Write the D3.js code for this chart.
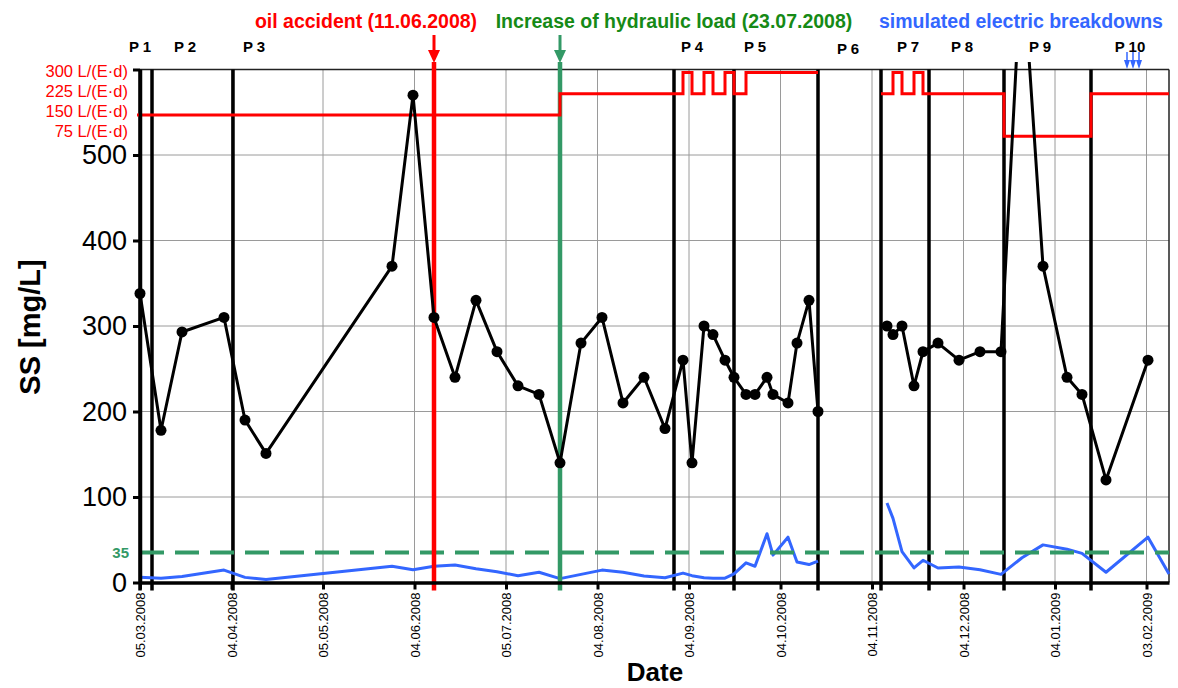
<!DOCTYPE html>
<html><head><meta charset="utf-8">
<script src="https://cdn.jsdelivr.net/npm/d3@7"></script>
<style>body{margin:0;background:#fff}svg{display:block;font-family:Arial,"Liberation Sans",sans-serif}</style>
</head><body><svg id="c" width="1178" height="688"></svg>
<script>
// ---------- DATA ----------
const ssDates = ["2008-03-05","2008-03-12","2008-03-19","2008-04-02","2008-04-09","2008-04-16","2008-05-28","2008-06-04","2008-06-11","2008-06-18","2008-06-25","2008-07-02","2008-07-09","2008-07-16","2008-07-23","2008-07-30","2008-08-06","2008-08-13","2008-08-20","2008-08-27","2008-09-02","2008-09-05","2008-09-09","2008-09-12","2008-09-16","2008-09-19","2008-09-23","2008-09-26","2008-09-30","2008-10-02","2008-10-07","2008-10-10","2008-10-14","2008-10-17","2008-10-30","2008-11-09","2008-11-11","2008-11-14","2008-11-18","2008-11-21","2008-11-26","2008-12-03","2008-12-10","2008-12-17","2008-12-24","2008-12-31","2009-01-08","2009-01-13","2009-01-21","2009-02-04"];
const ssValues = [338,178,293,310,190,151,370,570,310,240,330,270,230,220,140,280,310,210,240,180,260,140,300,290,260,240,220,220,240,220,210,280,330,200,null,300,290,300,230,270,280,260,270,270,735,370,240,220,120,260];
const effDates = ["2008-03-05","2008-03-12","2008-03-19","2008-04-02","2008-04-09","2008-04-16","2008-05-28","2008-06-04","2008-06-11","2008-06-18","2008-06-25","2008-07-02","2008-07-09","2008-07-16","2008-07-23","2008-07-30","2008-08-06","2008-08-13","2008-08-20","2008-08-27","2008-09-02","2008-09-05","2008-09-09","2008-09-12","2008-09-16","2008-09-19","2008-09-23","2008-09-26","2008-09-30","2008-10-02","2008-10-07","2008-10-10","2008-10-14","2008-10-17","2008-10-30","2008-11-09","2008-11-11","2008-11-14","2008-11-18","2008-11-21","2008-11-26","2008-12-03","2008-12-10","2008-12-17","2008-12-24","2008-12-31","2009-01-08","2009-01-13","2009-01-21","2009-02-04","2009-02-11"];
const effValues = [6,5,7,14.5,6,3.5,19,15,19,20.5,16,12.5,8,12,4.5,9.5,14.5,12,7.5,5.5,11,8,5.5,5,5,10,23,19,57,32,53,24,21,25,null,93,75,36,17,26,17,18,15,9.5,29,44,39,34,12,53,10];
const loadDates = ["2008-03-04","2008-07-23","2008-09-02","2008-09-05","2008-09-09","2008-09-12","2008-09-16","2008-09-19","2008-09-23","2008-10-17","2008-10-30","2008-11-07","2008-11-11","2008-11-14","2008-11-18","2008-11-21","2008-12-18","2009-01-16","2009-02-11"];
const loadValues = [150,225,300,225,300,225,300,225,300,300,null,225,300,225,300,225,75,225,225];
const phaseDates = ["2008-03-05","2008-03-09","2008-04-05","2008-08-30","2008-09-19","2008-10-17","2008-11-07","2008-11-23","2008-12-18","2009-01-16"];
const phaseLabels = ["P 1","P 2","P 3","P 4","P 5","P 6","P 7","P 8","P 9","P 10"];
const phaseLabelDates = ["2008-03-05","2008-03-20","2008-04-12","2008-09-05","2008-09-26","2008-10-27","2008-11-16","2008-12-04","2008-12-30","2009-01-29"];
const xTickDates = ["2008-03-05","2008-04-04T12:00","2008-05-05","2008-06-04T12:00","2008-07-05","2008-08-04T12:00","2008-09-04","2008-10-04T12:00","2008-11-04","2008-12-04T12:00","2009-01-04","2009-02-03T12:00"];
const ssTicks = [0,100,200,300,400,500];
const loadTicks = [300,225,150,75];
const limitValue = 35;
const oilDate = "2008-06-11";
const loadIncreaseDate = "2008-07-23";
const breakdownDates = ["2009-01-28","2009-01-30","2009-02-01"];

// ---------- SETUP ----------
const parse = s => new Date(s.length > 10 ? s + "Z" : s + "T00:00Z");
const fmt = d3.utcFormat("%d.%m.%Y");
const svg = d3.select("#c");
const x = d3.scaleUtc().domain([parse("2008-03-05"), parse("2009-02-11")]).range([140, 1169]);
const y = d3.scaleLinear().domain([0, 600]).range([582.5, 69.5]);
const yLoad = d3.scaleLinear().domain([0, 300]).range([157.5, 72.5]);
const yLoadLabel = d3.scaleLinear().domain([300, 75]).range([71, 131]);
const RED = "#ff0000", SEA = "#339966", BLUE = "#3366ff", DKGREEN = "#168a16";

const ss = ssDates.map((d, i) => ({d: parse(d), v: ssValues[i]}));
const eff = effDates.map((d, i) => ({d: parse(d), v: effValues[i]}));
const load = loadDates.map((d, i) => ({d: parse(d), v: loadValues[i]}));

svg.append("defs").append("clipPath").attr("id", "clip")
  .append("rect").attr("x", 125).attr("y", 62).attr("width", 1050).attr("height", 530);

// grid
const grid = svg.append("g").attr("stroke", "#9a9a9a").attr("stroke-width", 1);
grid.selectAll("line.h").data(ssTicks.filter(t => t > 0)).join("line")
  .attr("x1", x.range()[0]).attr("x2", x.range()[1])
  .attr("y1", d => y(d)).attr("y2", d => y(d));
grid.selectAll("line.v").data(xTickDates.slice(1)).join("line")
  .attr("x1", d => x(parse(d))).attr("x2", d => x(parse(d)))
  .attr("y1", y(0)).attr("y2", y(600));

// frame top/right
svg.append("line").attr("x1", x.range()[0]).attr("x2", x.range()[1]).attr("y1", y(600)).attr("y2", y(600))
  .attr("stroke", "#222").attr("stroke-width", 1.5);
svg.append("line").attr("x1", x.range()[1]).attr("x2", x.range()[1]).attr("y1", y(600)).attr("y2", y(0))
  .attr("stroke", "#222").attr("stroke-width", 1.5);

// phase lines
svg.append("g").selectAll("line").data(phaseDates).join("line")
  .attr("x1", d => x(parse(d))).attr("x2", d => x(parse(d)))
  .attr("y1", y(600)).attr("y2", y(0) + 8)
  .attr("stroke", "#000").attr("stroke-width", 3.5);

// effluent (blue) line
const lineGen = yy => d3.line().defined(p => p.v != null).x(p => x(p.d)).y(p => yy(p.v));
svg.append("path").datum(eff).attr("d", lineGen(y)).attr("fill", "none")
  .attr("stroke", BLUE).attr("stroke-width", 3).attr("stroke-linejoin", "round");

// limit dashed line
svg.append("line").attr("x1", x.range()[0]).attr("x2", x.range()[1])
  .attr("y1", y(limitValue)).attr("y2", y(limitValue))
  .attr("stroke", SEA).attr("stroke-width", 4).attr("stroke-dasharray", "24,11");
svg.append("text").attr("x", 129).attr("y", y(limitValue)).attr("dy", "0.36em")
  .attr("text-anchor", "end").attr("font-size", 15).attr("font-weight", "bold").attr("fill", SEA).text(limitValue);

// event verticals + arrows
function eventLine(dateStr, color) {
  const xx = x(parse(dateStr));
  svg.append("line").attr("x1", xx).attr("x2", xx).attr("y1", 62).attr("y2", y(0) + 8)
    .attr("stroke", color).attr("stroke-width", 4.5);
  svg.append("line").attr("x1", xx).attr("x2", xx).attr("y1", 35).attr("y2", 52)
    .attr("stroke", color).attr("stroke-width", 3);
  svg.append("path").attr("d", `M${xx - 6},50 L${xx + 6},50 L${xx},63 Z`).attr("fill", color);
}
eventLine(oilDate, RED);
eventLine(loadIncreaseDate, SEA);

// load step line
svg.append("path").datum(load)
  .attr("d", d3.line().defined(p => p.v != null).x(p => x(p.d)).y(p => yLoad(p.v)).curve(d3.curveStepAfter))
  .attr("fill", "none").attr("stroke", RED).attr("stroke-width", 3);

// SS black line + markers
const gSS = svg.append("g").attr("clip-path", "url(#clip)");
gSS.append("path").datum(ss).attr("d", lineGen(y)).attr("fill", "none")
  .attr("stroke", "#000").attr("stroke-width", 3).attr("stroke-linejoin", "round");
gSS.selectAll("circle").data(ss.filter(p => p.v != null)).join("circle")
  .attr("cx", p => x(p.d)).attr("cy", p => y(p.v)).attr("r", 5.5).attr("fill", "#000");

// axes
const xAxis = d3.axisBottom(x).tickValues(xTickDates.map(parse)).tickFormat(fmt).tickSize(7).tickSizeOuter(0);
const gx = svg.append("g").attr("transform", `translate(0,${y(0)})`).call(xAxis);
gx.select(".domain").attr("stroke", "#000").attr("stroke-width", 3.5);
gx.selectAll(".tick line").attr("stroke", "#000").attr("stroke-width", 3);
gx.selectAll(".tick text").attr("font-size", 13).attr("fill", "#000")
  .attr("text-anchor", "end").attr("transform", "rotate(-90)")
  .attr("x", -10).attr("y", 0).attr("dy", "0.36em");

const yAxis = d3.axisLeft(y).tickValues([...ssTicks, 600]).tickFormat(d => d <= 500 ? d : "").tickSize(7).tickSizeOuter(0);
const gy = svg.append("g").attr("transform", `translate(${x.range()[0]},0)`).call(yAxis);
gy.select(".domain").attr("stroke", "#000").attr("stroke-width", 3.5);
gy.selectAll(".tick line").attr("stroke", "#000").attr("stroke-width", 3);
gy.selectAll(".tick text").attr("font-size", 27).attr("fill", "#000").attr("x", -13).attr("font-family", "Arial, 'Liberation Sans', sans-serif");

// load labels
svg.append("g").selectAll("text").data(loadTicks).join("text")
  .attr("x", 128).attr("y", d => yLoadLabel(d)).attr("dy", "0.36em").attr("text-anchor", "end")
  .attr("font-size", 16.5).attr("fill", RED).text(d => `${d} L/(E·d)`);

// phase labels
svg.append("g").selectAll("text").data(phaseLabels).join("text")
  .attr("x", (d, i) => x(parse(phaseLabelDates[i]))).attr("y", (d, i) => d === "P 6" ? 54 : 52)
  .attr("text-anchor", "middle").attr("font-size", 15).attr("font-weight", "bold").attr("fill", "#000").text(d => d);

// breakdown arrows
const gb = svg.append("g");
breakdownDates.forEach(ds => {
  const xx = x(parse(ds));
  gb.append("line").attr("x1", xx).attr("x2", xx).attr("y1", 52).attr("y2", 62).attr("stroke", BLUE).attr("stroke-width", 1.5);
  gb.append("path").attr("d", `M${xx - 3},60 L${xx + 3},60 L${xx},69 Z`).attr("fill", BLUE);
});

// annotation titles
const ann = [
  {t: "oil accident (11.06.2008)", cx: 366, c: RED},
  {t: "Increase of hydraulic load (23.07.2008)", cx: 674, c: DKGREEN},
  {t: "simulated electric breakdowns", cx: 1021, c: BLUE}
];
svg.append("g").selectAll("text").data(ann).join("text")
  .attr("x", d => d.cx).attr("y", 28).attr("text-anchor", "middle")
  .attr("font-size", 19.5).attr("font-weight", "bold").attr("fill", d => d.c).text(d => d.t);

// axis titles
svg.append("text").attr("transform", "translate(40,327) rotate(-90)").attr("text-anchor", "middle")
  .attr("font-size", 29).attr("font-weight", "bold").attr("fill", "#000").text("SS [mg/L]");
svg.append("text").attr("x", 655).attr("y", 681).attr("text-anchor", "middle")
  .attr("font-size", 26).attr("font-weight", "bold").attr("fill", "#000").text("Date");
</script></body></html>
